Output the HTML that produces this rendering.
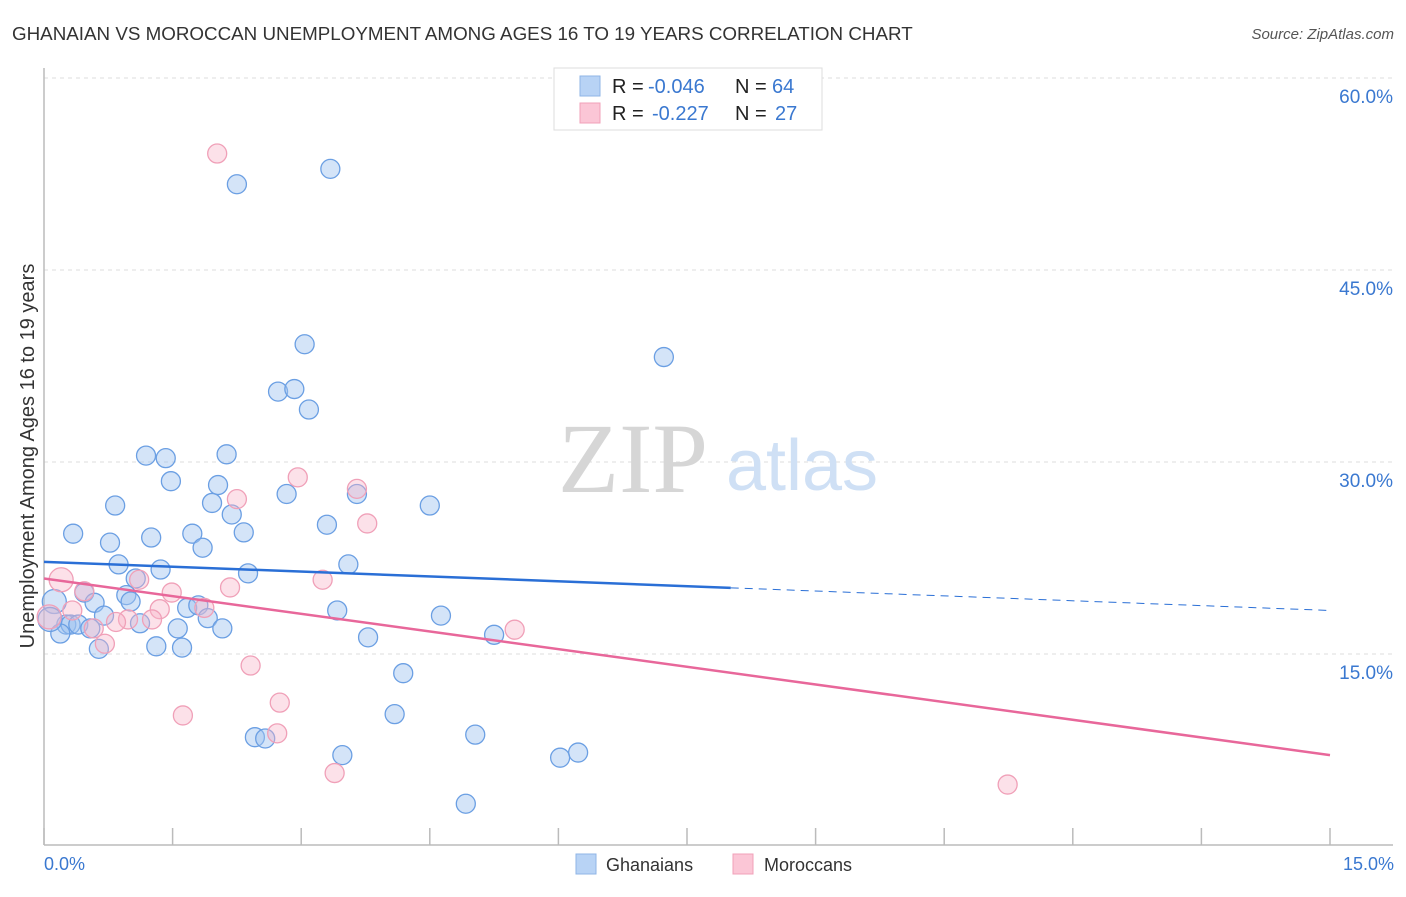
<!DOCTYPE html>
<html><head><meta charset="utf-8"><style>
body{margin:0;background:#fff;font-family:"Liberation Sans",sans-serif}
svg text{font-family:"Liberation Sans",sans-serif}
</style></head><body>
<svg id="chart" width="1406" height="892" xmlns="http://www.w3.org/2000/svg">
<text x="12" y="40" font-size="18.8" fill="#333">GHANAIAN VS MOROCCAN UNEMPLOYMENT AMONG AGES 16 TO 19 YEARS CORRELATION CHART</text>
<text x="1394" y="39" font-size="15" fill="#555" font-style="italic" text-anchor="end">Source: ZipAtlas.com</text>
<g id="grid"></g>
<g id="yticks"></g>
<line x1="44" y1="68" x2="44" y2="845" stroke="#bbb" stroke-width="1.5"/>
<line x1="44" y1="845" x2="1393" y2="845" stroke="#bbb" stroke-width="1.5"/>
<g id="xticks"></g>
<text x="44" y="870" font-size="18" fill="#3a78d0">0.0%</text>
<text x="1394" y="870" font-size="18" fill="#3a78d0" text-anchor="end">15.0%</text>
<text transform="translate(34,456) rotate(-90)" font-size="20" fill="#333" text-anchor="middle">Unemployment Among Ages 16 to 19 years</text>
<g><text x="633" y="492" font-size="100" fill="#d6d6d6" text-anchor="middle" style="font-family:'Liberation Serif',serif">ZIP</text><text x="802" y="490" font-size="72" fill="#cfe0f5" text-anchor="middle">atlas</text></g>
<g id="pts"></g>
<g id="trends"></g>
<g>
<rect x="554" y="68" width="268" height="62" fill="#fff" stroke="#ddd"/>
<rect x="580" y="76" width="20" height="20" fill="#b8d3f5" stroke="#8fb4e6"/>
<rect x="580" y="103" width="20" height="20" fill="#fbc6d6" stroke="#f0a0b8"/>
<text x="612" y="93" font-size="20" fill="#222">R =</text>
<text x="648" y="93" font-size="20" fill="#3a78d0">-0.046</text>
<text x="735" y="93" font-size="20" fill="#222">N =</text>
<text x="772" y="93" font-size="20" fill="#3a78d0">64</text>
<text x="612" y="120" font-size="20" fill="#222">R =</text>
<text x="652" y="120" font-size="20" fill="#3a78d0">-0.227</text>
<text x="735" y="120" font-size="20" fill="#222">N =</text>
<text x="775" y="120" font-size="20" fill="#3a78d0">27</text>
</g>
<g>
<rect x="576" y="854" width="20" height="20" fill="#b8d3f5" stroke="#8fb4e6"/>
<text x="606" y="871" font-size="18" fill="#333">Ghanaians</text>
<rect x="733" y="854" width="20" height="20" fill="#fbc6d6" stroke="#f0a0b8"/>
<text x="764" y="871" font-size="18" fill="#333">Moroccans</text>
</g>
</svg>
<script>
const yTicks=[15,30,45,60];
const yTickLabels=["15.0%","30.0%","45.0%","60.0%"];
const xTickVals=[0,1.5,3,4.5,6,7.5,9,10.5,12,13.5,15];
const ghX=[2.25,3.34,3.04,7.23,2.73,2.92,3.09,1.19,1.42,2.13,1.48,2.03,1.96,2.83,3.65,4.50,0.83,2.19,3.30,0.34,1.73,2.33,0.77,1.25,1.85,0.87,1.36,2.38,3.55,1.07,0.47,0.96,0.59,1.01,1.67,1.80,1.91,3.42,4.63,0.70,0.26,0.31,0.40,1.12,1.56,2.08,0.54,0.19,0.12,5.25,3.78,1.31,1.61,0.64,4.19,2.46,2.58,4.09,5.03,3.48,6.23,6.02,4.92,0.07];
const ghY=[51.7,52.9,39.2,38.2,35.5,35.7,34.1,30.5,30.3,30.6,28.5,28.2,26.8,27.5,27.5,26.6,26.6,25.9,25.1,24.4,24.4,24.5,23.7,24.1,23.3,22.0,21.6,21.3,22.0,20.9,19.8,19.6,19.0,19.1,18.6,18.8,17.8,18.4,18.0,18.0,17.3,17.3,17.3,17.4,17.0,17.0,17.0,16.6,19.1,16.5,16.3,15.6,15.5,15.4,13.5,8.5,8.4,10.3,8.7,7.1,7.3,6.9,3.3,17.7];
const moX=[2.02,2.96,3.65,2.25,3.77,0.20,1.11,3.25,2.17,0.47,1.49,1.35,0.33,1.87,1.26,0.98,0.84,0.58,0.06,0.71,5.49,2.41,2.75,1.62,2.72,3.39,11.24];
const moY=[54.1,28.8,27.9,27.1,25.2,20.8,20.8,20.8,20.2,19.9,19.8,18.5,18.4,18.6,17.7,17.7,17.5,17.0,17.9,15.8,16.9,14.1,11.2,10.2,8.8,5.7,4.8];
const ghTrend=[22.2,18.4]; const ghSolidEnd=8.01;
const moTrend=[20.9,7.1];
const X0=44,X1=1330,Y0=846,PXY=12.8;
const sx=v=>X0+(X1-X0)*v/15, sy=v=>Y0-v*PXY;
const NS="http://www.w3.org/2000/svg";
function mk(tag,attrs,parent){const e=document.createElementNS(NS,tag);for(const k in attrs)e.setAttribute(k,attrs[k]);parent.appendChild(e);return e;}
const grid=document.getElementById('grid'),yt=document.getElementById('yticks'),xt=document.getElementById('xticks');
yTicks.forEach((v,i)=>{
 const l=mk('line',{x1:44,x2:1393,y1:sy(v),y2:sy(v),stroke:'#ddd','stroke-dasharray':'4,4'},grid);
 
 
 const t=mk('text',{x:1393,y:sy(v)+25,'font-size':19,fill:'#3a78d0','text-anchor':'end'},yt);
 t.textContent=yTickLabels[i];
 
 
});
xTickVals.forEach(v=>{
 const l=mk('line',{x1:sx(v),x2:sx(v),y1:845,y2:828,stroke:'#bbb','stroke-width':1.5},xt);
 
 
});
const pts=document.getElementById('pts');
ghX.forEach((x,i)=>{
 const r=(x<0.15&&ghY[i]>16&&ghY[i]<20)?12:9.5;
 const c=mk('circle',{cx:sx(x),cy:sy(ghY[i]),r:r,fill:'rgba(160,196,240,0.45)',stroke:'#6b9fe3','stroke-width':1.3},pts);
 
 
});
moX.forEach((x,i)=>{
 const r=(x<0.25)?12:9.5;
 const c=mk('circle',{cx:sx(x),cy:sy(moY[i]),r:r,fill:'rgba(248,180,200,0.4)',stroke:'#f0a0b8','stroke-width':1.3},pts);
 
 
});
const tr=document.getElementById('trends');
const gy=x=>ghTrend[0]+(ghTrend[1]-ghTrend[0])*x/15;
let l1=mk('line',{x1:sx(0),y1:sy(gy(0)),x2:sx(ghSolidEnd),y2:sy(gy(ghSolidEnd)),stroke:'#2a6fd6','stroke-width':2.5},tr);


let l2=mk('line',{x1:sx(ghSolidEnd),y1:sy(gy(ghSolidEnd)),x2:sx(15),y2:sy(gy(15)),stroke:'#2a6fd6','stroke-width':1,'stroke-dasharray':'8,6'},tr);


let l3=mk('line',{x1:sx(0),y1:sy(moTrend[0]),x2:sx(15),y2:sy(moTrend[1]),stroke:'#e8679a','stroke-width':2.5},tr);


</script>
</body></html>
